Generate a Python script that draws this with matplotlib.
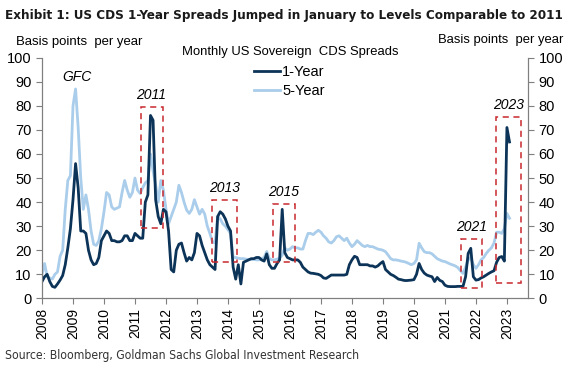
import matplotlib
matplotlib.use("Agg")
import matplotlib.pyplot as plt
from matplotlib.patches import Rectangle
import numpy as np

years = list(range(2008, 2024))

one_year = {
    2008: [7, 9, 10, 7, 5, 4.6, 6, 7.6, 9.5, 14, 21, 29],
    2009: [41, 56, 46, 28, 28, 27, 20, 16, 14, 14.5, 17, 24],
    2010: [26, 28, 27, 24, 24, 23.5, 23.5, 24, 26, 26, 24, 24],
    2011: [27, 26, 25, 25, 40, 43, 76, 74, 41, 34, 31, 37],
    2012: [36, 28, 12, 11, 20, 22.5, 23, 19, 15.5, 17, 16, 19],
    2013: [27, 26, 22, 19, 16, 14, 13, 12, 34, 36, 35, 33],
    2014: [30, 28, 13, 8, 14, 6, 15, 15.5, 16, 16.5, 16.5, 17],
    2015: [17, 16, 15.5, 18.5, 14, 12.5, 12.5, 14.5, 16, 37, 19, 17],
    2016: [16.5, 16, 16, 16, 15, 13, 12, 11, 10.5, 10.4, 10.2, 10],
    2017: [9.5, 8.5, 8.3, 9, 9.7, 9.7, 9.7, 9.7, 9.7, 9.7, 10, 14],
    2018: [16, 17.5, 17, 14, 14, 14, 14, 13.5, 13.5, 13, 13.5, 14.5],
    2019: [15.3, 12, 11, 10, 9.5, 8.8, 8, 7.8, 7.5, 7.4, 7.5, 7.6],
    2020: [7.8, 10, 14.5, 12, 10.5, 9.7, 9.3, 9, 7, 8.7, 7.5, 7],
    2021: [5.5, 5, 4.9, 4.9, 4.9, 5, 5, 5, 9, 18.7, 20.8, 9],
    2022: [7.6, 7.8, 8.5, 9, 9.7, 10.4, 11, 11.5, 15, 17, 17.4, 15.5],
    2023: [71, 65],
}

five_year = {
    2008: [10, 14.5, 9, 8.5, 8, 10, 11, 17.5, 20, 37, 49, 51],
    2009: [80, 87, 71, 50, 37, 43, 37, 28, 22.5, 22, 24, 29],
    2010: [36, 44, 43, 38, 37, 37.5, 38, 44, 49, 45, 42, 44],
    2011: [50, 45, 43.6, 46, 48, 49, 60, 53, 47, 40, 49, 45],
    2012: [37, 31, 34, 37, 40, 47, 44, 40, 36.7, 35.3, 37, 41],
    2013: [38, 35, 37, 35, 30, 27, 23.5, 23, 34, 33, 31, 30],
    2014: [28.5, 27, 17, 17, 16.7, 16.5, 16.5, 16.3, 16.2, 16.2, 16.2, 16],
    2015: [16, 16.5, 17, 19.5, 16.5, 16, 16, 16.3, 16.7, 18, 21, 20],
    2016: [20.5, 21.5, 21, 21, 20.5, 20.5, 24, 27, 27, 26.5, 27.5, 28.3],
    2017: [27.5, 26, 25, 23.5, 23, 24, 25.6, 26, 25, 24, 25, 23],
    2018: [21.5, 22.5, 24, 23, 22, 21.5, 22, 21.5, 21.5, 21, 20.5, 20.3],
    2019: [20, 19.4, 18, 16.5, 16, 16, 15.8, 15.5, 15.3, 15, 14.5, 14],
    2020: [14.5, 16, 22.9, 21, 19.4, 19, 19, 18.5, 17.5, 16.5, 16, 15.5],
    2021: [15.3, 14.8, 14.3, 13.9, 13.5, 12.8, 11.5, 10.4, 13, 16, 17, 14],
    2022: [12.5, 14, 16, 17, 18.7, 20, 21, 23, 27.5, 27.5, 27, 29],
    2023: [35.3, 33.3],
}

# episode boxes: (label, x0, x1, y0, y1)
box_labels = ["2011", "2013", "2015", "2021", "2023"]
box_x0 = [2011.18, 2013.49, 2015.44, 2021.52, 2022.64]
box_x1 = [2011.89, 2014.28, 2016.16, 2022.18, 2023.47]
box_y0 = [29.1, 15.0, 15.3, 4.5, 6.3]
box_y1 = [79.4, 40.9, 39.2, 24.7, 75.5]

def flatten(d):
    xs, vs = [], []
    for y in years:
        for m, v in enumerate(d[y]):
            xs.append(y + m / 12.0)
            vs.append(v)
    return np.array(xs), np.array(vs)

x1, v1 = flatten(one_year)
x5, v5 = flatten(five_year)

DARK = "#0c3358"
LIGHT = "#a9cdea"
RED = "#c8282e"
GREY = "#7f7f7f"

plt.rcParams['font.family'] = ['Liberation Sans', 'DejaVu Sans']

fig = plt.figure(figsize=(5.7, 3.7), dpi=100)
ax = fig.add_axes([42/570, 1-298.4/370, (528-42)/570, (298.4-57.7)/370])

ax.plot(x5, v5, color=LIGHT, lw=2.0, label="5-Year", zorder=2)
ax.plot(x1, v1, color=DARK, lw=2.0, label="1-Year", zorder=3)

for lab, a, b, c, d in zip(box_labels, box_x0, box_x1, box_y0, box_y1):
    ax.add_patch(Rectangle((a, c), b - a, d - c, fill=False, ec=RED, lw=1.1,
                           ls=(0, (4, 3)), zorder=4))
    ax.text((a + b) / 2, d + 2, lab, ha="center", va="bottom", style="italic",
            fontsize=10)
ax.text(2009.12, 92, "GFC", ha="center", va="center", style="italic", fontsize=10)

ax.set_xlim(2008, 2023.68)
ax.set_ylim(0, 100)
ax.set_yticks(range(0, 101, 10))
ax.set_xticks(years)
ax.set_xticklabels([str(y) for y in years], rotation=90, fontsize=10)
ax.tick_params(axis="y", labelsize=10.5, direction="out", length=4, color=GREY)
ax.tick_params(axis="x", direction="out", length=4, color=GREY, pad=3)
ax.spines["top"].set_visible(False)
for s in ["left", "bottom", "right"]:
    ax.spines[s].set_color(GREY)

ax2 = ax.twinx()
ax2.set_ylim(0, 100)
ax2.set_yticks(range(0, 101, 10))
ax2.tick_params(axis="y", labelsize=10.5, direction="out", length=4, color=GREY)
ax2.spines["top"].set_visible(False)
for s in ["left", "bottom", "right"]:
    ax2.spines[s].set_color(GREY)

h, l = ax.get_legend_handles_labels()
leg = ax.legend(h[::-1], l[::-1], loc="upper left",
                bbox_to_anchor=(247/570, 1-58/370), bbox_transform=fig.transFigure,
                frameon=False, fontsize=10.5, handlelength=1.75, handletextpad=0.15,
                borderpad=0, labelspacing=0.3)

title = fig.text(5/570, 1-15.5/370,
                 "Exhibit 1: US CDS 1-Year Spreads Jumped in January to Levels Comparable to 2011",
                 ha="left", va="center", fontsize=13.5, fontweight="bold",
                 family="DejaVu Sans", fontstretch="condensed", color="#1a1a1a")
bl = fig.text(16/570, 1-42/370, "Basis points  per year", ha="left", va="center", fontsize=10.5)
br = fig.text(563/570, 1-40/370, "Basis points  per year", ha="right", va="center", fontsize=10.5)
mt = fig.text(290/570, 1-52/370, "Monthly US Sovereign  CDS Spreads", ha="center", va="center", fontsize=10.5)
src = fig.text(5/570, 1-356/370, "Source: Bloomberg, Goldman Sachs Global Investment Research",
               ha="left", va="center", fontsize=10.5, family="DejaVu Sans",
               fontstretch="condensed", color="#333333")

# fit text widths to the reference
fig.canvas.draw()
r = fig.canvas.get_renderer()
for t, target in [(title, 560), (src, 355), (bl, 127), (br, 126), (mt, 218)]:
    w = t.get_window_extent(r).width
    t.set_fontsize(t.get_fontsize() * target / w)

fig.savefig("out.png", dpi=100)
